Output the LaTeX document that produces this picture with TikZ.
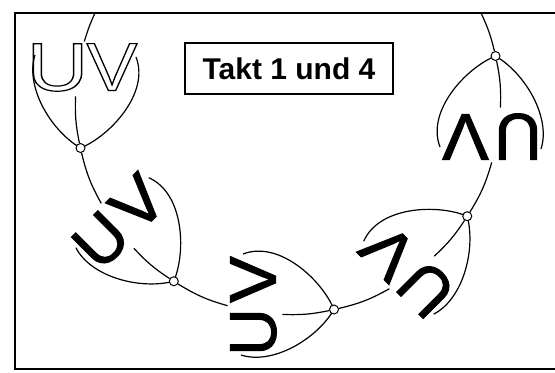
\documentclass[tikz,border=0pt]{standalone}
\usepackage{fontspec}
\setmainfont{Liberation Sans}
\newfontface\dickfont[FakeBold=1.5]{Liberation Sans}
\newfontface\duennfont{Liberation Sans}
% hohle Buchstaben: nur die Kontur der Glyphe zeichnen
\newcommand\hohl[1]{\special{pdf:code q 1 Tr 0.6 w}#1\special{pdf:code Q}}

\tikzset{
  umriss/.style={line width=0.6pt},
  gelenk/.style={circle,draw,fill=white,inner sep=0pt,minimum size=4.5pt,line width=0.5pt},
  buchst/.style={font=\dickfont\fontsize{33}{33}\selectfont,inner sep=0pt,transform shape},
  hohlbuchst/.style={font=\duennfont\fontsize{34}{34}\selectfont,inner sep=0pt,transform shape}
}

\begin{document}
\begin{tikzpicture}[x=0.5pt,y=0.5pt]
\useasboundingbox (0,0) rectangle (555,372);

% Rahmen (rechts offen)
\draw[line width=1pt] (555,359) -- (15,359) -- (15,3) -- (555,3);

\node[draw,line width=0.8pt,minimum width=104pt,minimum height=25.5pt,
      font=\fontsize{15}{18}\bfseries\selectfont] (takt) at (289,303.5) {Takt 1 und 4};

% Drehpunkt und Randpunkte des Bogens
\coordinate (C) at (288,270);
\coordinate (oben1) at (94.9,358.8);
\coordinate (oben2) at (481.1,358.8);

% fuenf Stellungen, je 45 Grad weiter
\foreach \i in {0,...,4}{
  \begin{scope}[rotate around={45*\i:(C)}]
    \draw[umriss] (35,317) .. controls (25,286) and (50,242) .. (80.5,224)
                  .. controls (110,236) and (150,279) .. (136,315);
    \coordinate (e\i) at (84.3,330.4);
    \coordinate (a\i) at (75.6,275.6);
    \node[gelenk] (s\i) at (80.5,224) {};
    \ifnum\i=0
      \node[hohlbuchst,xscale=1.25] (u\i) at (57.5,304.5) {\hohl{U}};
      \node[hohlbuchst,xscale=1.12] (v\i) at (112,305) {\hohl{V}};
    \else
      \node[buchst] (u\i) at (58,304.5) {U};
      \node[buchst,xscale=1.06] (v\i) at (110.5,305) {V};
    \fi
  \end{scope}
}

\begin{scope}[every edge/.style={draw,line width=0.6pt}]
  \path (oben1) edge[bend right=4] (e0);
  \foreach \i [count=\j] in {0,...,3}
    \path (s\i) edge[bend right=8] (e\j);
  \foreach \i in {0,...,4}
    \path (s\i) edge[bend left=7] (a\i);
  \path (s4) edge[bend right=6] (oben2);
\end{scope}
\end{tikzpicture}
\end{document}
